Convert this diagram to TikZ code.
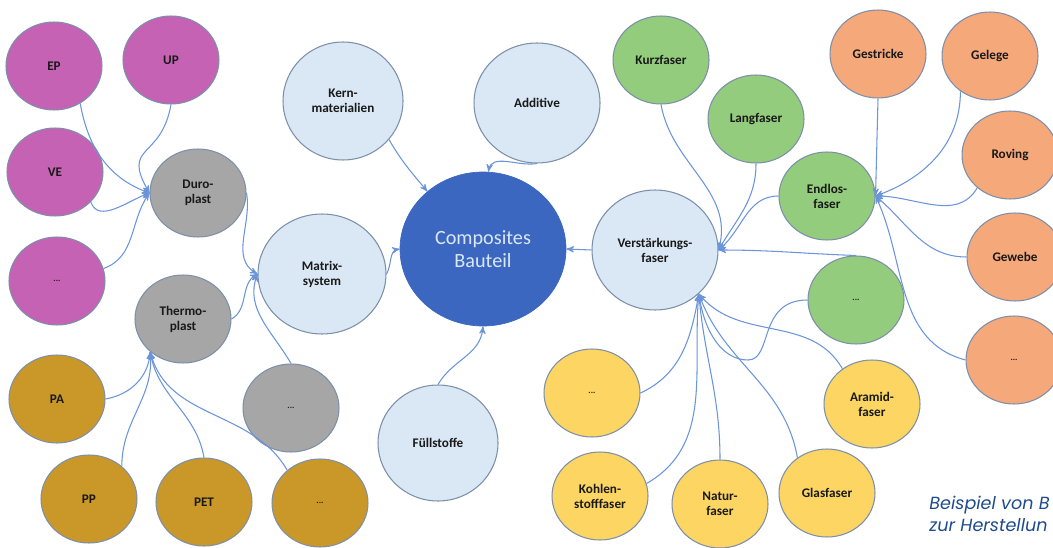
\documentclass[tikz,border=0pt]{standalone}
\usepackage{fontspec}
\setmainfont{Carlito}
\newfontfamily\capfont{Poppins}
\usepackage{xcolor}
\usepackage{tikz}
\usetikzlibrary{shapes.geometric,arrows,positioning}

\definecolor{magentafill}{HTML}{C562B4}
\definecolor{greyfill}{HTML}{A6A6A6}
\definecolor{goldfill}{HTML}{C99828}
\definecolor{lbluefill}{HTML}{DAE8F5}
\definecolor{corefill}{HTML}{3B67C0}
\definecolor{greenfill}{HTML}{92CC7C}
\definecolor{orangefill}{HTML}{F5A87A}
\definecolor{yellowfill}{HTML}{FCD562}
\definecolor{rimcol}{HTML}{7D8FA9}
\definecolor{linkcol}{HTML}{6A95DB}
\definecolor{capcol}{HTML}{1E4B8C}

\begin{document}
\begin{tikzpicture}[x=0.02cm,y=-0.02cm,>=stealth',
    bubble/.style={ellipse,draw=rimcol,line width=0.6pt,inner sep=0pt,align=center,
      minimum width=1.92cm,minimum height=1.76cm,text=black!90,
      font=\fontsize{7.5}{8.5}\selectfont\bfseries},
    mag/.style={bubble,fill=magentafill},
    grey/.style={bubble,fill=greyfill},
    gold/.style={bubble,fill=goldfill},
    green/.style={bubble,fill=greenfill},
    orange/.style={bubble,fill=orangefill},
    yellow/.style={bubble,fill=yellowfill},
    lblue/.style={bubble,fill=lbluefill,minimum width=2.5cm,minimum height=2.38cm},
    core/.style={ellipse,fill=corefill,draw=corefill,inner sep=0pt,align=center,
      minimum width=3.32cm,minimum height=3.08cm,text=lbluefill,
      font=\fontsize{11.5}{12.8}\selectfont},
    dotlbl/.style={font=\fontsize{5}{6}\selectfont\bfseries},
    link/.style={->,draw=linkcol,line width=0.6pt}]
    \useasboundingbox (0,0) rectangle (1053,547);
    \fill[white] (0,0) rectangle (1053,547);
    %% node
    % Matrix side
    \node[mag] (ep) at (54,66) {EP};
    \node[mag] (up) at (171,60) {UP};
    \node[mag] (ve) at (55,172) {VE};
    \node[mag,dotlbl] (mdots) at (57,281) {...};
    \node[grey] (duro) at (198,193) {Duro-\\plast};
    \node[grey] (thermo) at (183,319) {Thermo-\\plast};
    \node[grey,dotlbl] (gydots) at (291,408) {...};
    \node[gold] (pa) at (57,399) {PA};
    \node[gold] (pp) at (89,499) {PP};
    \node[gold] (pet) at (204,502) {PET};
    \node[gold,dotlbl] (tdots) at (320,503) {...};
    \node[lblue,minimum width=2.4cm,minimum height=2.36cm] (kern) at (343,101) {Kern-\\materialien};
    \node[lblue,minimum width=2.52cm,minimum height=2.4cm] (additive) at (537,103) {Additive};
    \node[lblue,minimum width=2.56cm,minimum height=2.4cm] (matrix) at (322,274) {Matrix-\\system};
    \node[lblue,minimum width=2.4cm,minimum height=2.32cm] (fuell) at (438,443) {Füllstoffe};
    \node[core] (comp) at (483,249) {Composites\\Bauteil};
    % Faser side
    \node[lblue,minimum width=2.52cm,minimum height=2.4cm] (verst) at (655,250) {Verstärkungs-\\faser};
    \node[green] (kurz) at (661,60) {Kurzfaser};
    \node[green] (lang) at (756,119) {Langfaser};
    \node[green] (endlos) at (827,196) {Endlos-\\faser};
    \node[green,dotlbl] (grdots) at (856,300) {...};
    \node[orange] (gest) at (878,54) {Gestricke};
    \node[orange] (gelege) at (990,56) {Gelege};
    \node[orange] (roving) at (1010,155) {Roving};
    \node[orange] (gewebe) at (1015,257) {Gewebe};
    \node[orange,dotlbl] (odots) at (1014,360) {...};
    \node[yellow,dotlbl] (ydots) at (592,393) {...};
    \node[yellow] (aramid) at (872,404) {Aramid-\\faser};
    \node[yellow] (kohlen) at (600,496) {Kohlen-\\stofffaser};
    \node[yellow] (natur) at (720,504) {Natur-\\faser};
    \node[yellow] (glas) at (827,493) {Glasfaser};
    % caption, cut at the right edge
    \node (cap) [anchor=north west,align=left,text=capcol,inner sep=0pt,
      font=\capfont\itshape\fontsize{10}{12.5}\selectfont] at (929,496)
      {Beispiel von B\\zur Herstellun};
    %% path
    \path[every edge/.style=link]
      (ep.-55) edge[out=-80,in=160] (duro.west)
      (up.south) edge[out=-100,in=120,looseness=1.6] (duro.west)
      (ve.-40) edge[out=-70,in=200] (duro.west)
      (mdots.15) edge[out=20,in=235] (duro.west)
      (duro.east) edge[out=-80,in=150] (matrix.west)
      (thermo.east) edge[out=30,in=210] (matrix.west)
      (gydots.north) edge[out=120,in=250] (matrix.west)
      (pa.east) edge[out=10,in=-95] (thermo.-135)
      (pp.45) edge[out=90,in=-85] (thermo.-135)
      (pet.north) edge[out=100,in=-80] (thermo.-135)
      (tdots.135) edge[out=120,in=-75] (thermo.-135)
      (kern.-40) edge[out=-60,in=130] (comp.134)
      (additive.south) edge[out=-170,in=80] (comp.86)
      (matrix.east) edge[out=60,in=190] (comp.west)
      (fuell.north) edge[out=60,in=-95] (comp.south)
      (verst.west) edge (comp.east)
      (kurz.south) edge[out=-80,in=75] (verst.east)
      (lang.south) edge[out=-90,in=60] (verst.east)
      (endlos.west) edge[out=180,in=40] (verst.east)
      (grdots.north) edge[out=178,in=0] (verst.east)
      (gest.south) edge (endlos.east)
      (gelege.-130) edge[out=-90,in=20] (endlos.east)
      (roving.-135) edge[out=-120,in=0] (endlos.east)
      (gewebe.west) edge[out=180,in=-40] (endlos.east)
      (odots.west) edge[out=165,in=-65] (endlos.east)
      (ydots.east) edge[out=25,in=-100] (verst.-45)
      (kohlen.15) edge[out=30,in=-95] (verst.-45)
      (natur.north) edge[out=90,in=-85] (verst.-45)
      (glas.130) edge[out=100,in=-70] (verst.-45)
      (aramid.130) edge[out=120,in=-50] (verst.-45);
    \draw[link] (grdots.west) .. controls +(-50,0) and +(25,0) .. (748,360)
      .. controls +(-25,0) and +(6,40) .. (verst.-45);
\end{tikzpicture}
\end{document}
